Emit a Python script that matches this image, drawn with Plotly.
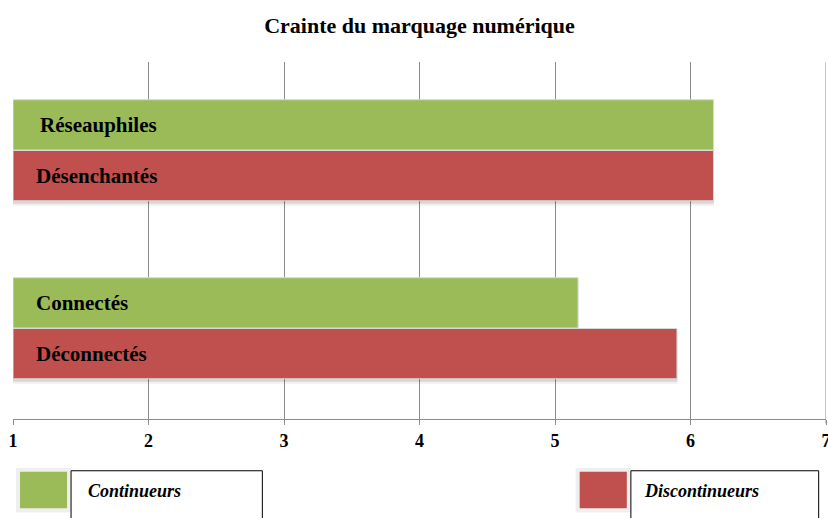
import plotly.graph_objects as go

# Data
groups = ["Continueurs", "Discontinueurs"]
profiles = ["Réseauphiles", "Désenchantés", "Connectés", "Déconnectés"]
profile_group = ["Continueurs", "Discontinueurs", "Continueurs", "Discontinueurs"]
scores = [6.17, 6.17, 5.17, 5.90]
x_ticks = [1, 2, 3, 4, 5, 6, 7]

# Styling
colors = {"Continueurs": "#9BBB59", "Discontinueurs": "#C0504D"}
grid_color = "#8c8c8c"
serif = "Liberation Serif, Times New Roman, serif"
axis_min, axis_max = 1, 7
# vertical slot of each bar (two pairs separated by a gap)
slots = [1.25, 2.26, 4.79, 5.80]

fig = go.Figure()

# soft shadow under each bar
for g in groups:
    idx = [i for i, p in enumerate(profile_group) if p == g]
    for off, alpha in [(0.10, 0.06), (0.06, 0.10)]:
        fig.add_trace(go.Bar(
            orientation="h",
            y=[slots[i] + off for i in idx],
            x=[scores[i] - axis_min + off * 0.04 for i in idx],
            base=axis_min,
            width=1.0,
            marker=dict(color=f"rgba(0,0,0,{alpha})", line=dict(width=0)),
            hoverinfo="skip",
            showlegend=False,
        ))

for g in groups:
    idx = [i for i, p in enumerate(profile_group) if p == g]
    fig.add_trace(go.Bar(
        orientation="h",
        name=g,
        y=[slots[i] for i in idx],
        x=[scores[i] - axis_min for i in idx],
        base=axis_min,
        width=1.0,
        marker=dict(color=colors[g], line=dict(color="#d9d9d9", width=1)),
        hovertext=[profiles[i] for i in idx],
        showlegend=False,
    ))

# bar labels inside, at the left
for i, name in enumerate(profiles):
    fig.add_annotation(
        x=axis_min, y=slots[i], xref="x", yref="y",
        text=f"<b>{name}</b>", showarrow=False,
        xanchor="left", yanchor="middle", xshift=21 if i else 25,
        font=dict(family=serif, size=21, color="black"),
    )

# gridline closing the right edge of the plot
shapes = [dict(type="line", xref="x", yref="paper", x0=axis_max, x1=axis_max,
               y0=-0.012, y1=1, line=dict(color=grid_color, width=1))]

# legend boxes under the chart
legend_specs = [
    ("Continueurs", 0.0086, 0.0665, 0.0714, 0.3067, 0.0897),
    ("Discontinueurs", 0.697, 0.755, 0.760, 0.991, 0.7734),
]
for g, sx0, sx1, bx0, bx1, tx in legend_specs:
    shapes.append(dict(type="rect", xref="paper", yref="paper",
                       x0=sx0 - 0.005, x1=sx1 + 0.005, y0=-0.262, y1=-0.137,
                       fillcolor="#efefef", line=dict(width=0), layer="above"))
    shapes.append(dict(type="rect", xref="paper", yref="paper",
                       x0=sx0, x1=sx1, y0=-0.25, y1=-0.148,
                       fillcolor=colors[g], line=dict(width=0), layer="above"))
    shapes.append(dict(type="rect", xref="paper", yref="paper",
                       x0=bx0, x1=bx1, y0=-0.30, y1=-0.145,
                       fillcolor="white", line=dict(color="black", width=1),
                       layer="above"))
    fig.add_annotation(
        x=tx, y=-0.203, xref="paper", yref="paper",
        text=f"<b><i>{g}</i></b>", showarrow=False,
        xanchor="left", yanchor="middle",
        font=dict(family=serif, size=18, color="black"),
    )

fig.update_layout(
    width=828, height=518,
    margin=dict(l=13, r=2, t=62, b=99, autoexpand=False),
    paper_bgcolor="white", plot_bgcolor="white",
    barmode="overlay",
    title=dict(text="<b>Crainte du marquage numérique</b>",
               x=0.5, xanchor="center", y=0.952, yanchor="middle",
               xref="paper",
               font=dict(family=serif, size=22, color="black")),
    shapes=shapes,
    xaxis=dict(
        range=[axis_min, axis_max], tickvals=x_ticks,
        ticktext=[f"<b>{t}</b>" for t in x_ticks],
        ticklabeloverflow="allow", automargin=False,
        showgrid=True, gridcolor=grid_color, gridwidth=1,
        showline=True, linecolor=grid_color, linewidth=1,
        ticks="outside", ticklen=5, tickcolor=grid_color,
        tickfont=dict(family=serif, size=18, color="black"),
        zeroline=False, fixedrange=True,
    ),
    yaxis=dict(range=[7.1, 0], showticklabels=False, showgrid=False,
               zeroline=False, showline=False, ticks="", fixedrange=True),
)

fig.write_html("out.html")
